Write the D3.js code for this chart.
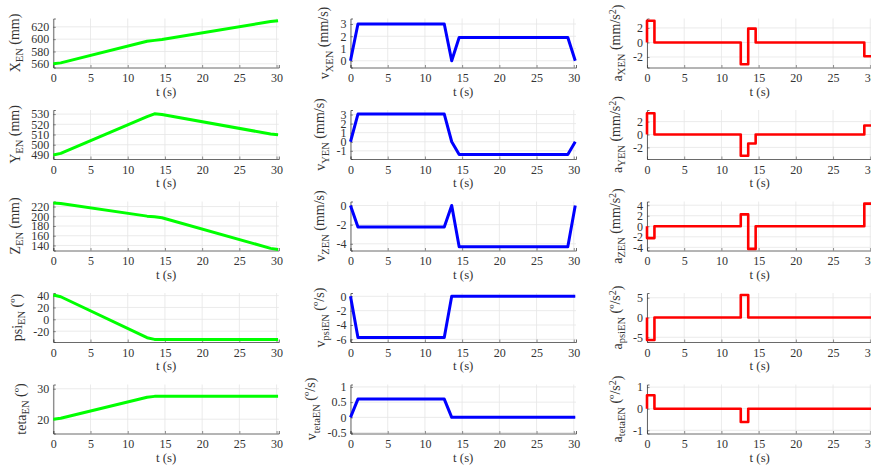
<!DOCTYPE html>
<html><head><meta charset="utf-8">
<script src="https://cdn.jsdelivr.net/npm/d3@7"></script>
<style>
body{margin:0;background:#fff;}
svg, svg text{font-family:"Liberation Serif","Times New Roman",Times,serif !important;}
</style></head>
<body><svg id="c" width="871" height="468"></svg>
<script>
// ---------- data ----------
const tKnots = [0, 1, 12.6, 13.6, 14.6, 29.2, 30.2];
const xTicks = [0, 5, 10, 15, 20, 25, 30];

// positions (values at knots)
const posX   = [560, 561.5, 596.5, 598, 599.5, 628.5, 630];
const posY   = [490, 491.5, 527.5, 530.3, 529.6, 510.5, 509.8];
const posZ   = [227.5, 226.4, 200.3, 199.2, 197, 134, 131.8];
const posPsi = [41, 38.1, -31, -33.9, -33.9, -33.9, -33.9];
const posTeta= [20, 20.3, 27.2, 27.5, 27.5, 27.5, 27.5];

// velocities (values at knots)
const velX   = [0, 3, 3, 0, 1.9, 1.9, 0];
const velY   = [0, 3.05, 3.05, 0, -1.4, -1.4, 0];
const velZ   = [0, -2.25, -2.25, 0, -4.3, -4.3, 0];
const velPsi = [0, -5.75, -5.75, 0, 0, 0, 0];
const velTeta= [0, 0.6, 0.6, 0, 0, 0, 0];

// accelerations (constant value on each interval between knots)
const accX   = [3, 0, -3, 1.9, 0, -1.9];
const accY   = [3.3, 0, -3.3, -1.4, 0, 1.4];
const accZ   = [-2.25, 0, 2.25, -4.3, 0, 4.3];
const accPsi = [-5.7, 0, 5.7, 0, 0, 0];
const accTeta= [0.62, 0, -0.62, 0, 0, 0];

// y tick values
const ticksPos = [[560,580,600,620],[490,500,510,520,530],[140,160,180,200,220],[-20,0,20,40],[20,30]];
const ticksVel = [[0,1,2,3],[-1,0,1,2,3],[-4,-2,0],[-6,-4,-2,0],[-0.5,0,0.5,1]];
const ticksAcc = [[-2,0,2],[-2,0,2],[-4,-2,0,2,4],[-5,0,5],[-1,0,1]];

// y domains
const domPos = [[554,633.5],[486,534],[129.6,230.4],[-38.3,44.4],[15.3,31.4]];
const domVel = [[-0.55,3.45],[-1.9,3.5],[-4.7,0.42],[-6.37,0.46],[-0.53,1.08]];
const domAcc = [[-3.45,3.3],[-3.8,3.8],[-4.6,4.7],[-6.2,6.2],[-1.15,1.12]];

// labels: [main, subscript, unit-before-sup, superscript, after]
const labPos = [["X","EN"," (mm)","",""],["Y","EN"," (mm)","",""],["Z","EN"," (mm)","",""],["psi","EN"," (º)","",""],["teta","EN"," (º)","",""]];
const labVel = [["v","XEN"," (mm/s)","",""],["v","YEN"," (mm/s)","",""],["v","ZEN"," (mm/s)","",""],["v","psiEN"," (º/s)","",""],["v","tetaEN"," (º/s)","",""]];
const labAcc = [["a","XEN"," (mm/s","2",")"],["a","YEN"," (mm/s","2",")"],["a","ZEN"," (mm/s","2",")"],["a","psiEN"," (º/s","2",")"],["a","tetaEN"," (º/s","2",")"]];

const posData = [posX,posY,posZ,posPsi,posTeta];
const velData = [velX,velY,velZ,velPsi,velTeta];
const accData = [accX,accY,accZ,accPsi,accTeta];

// ---------- layout ----------
const colLeft = [53.3, 350.5, 647];
const plotW = 225.5;
const rowTop0 = 18.5, rowStep = 91.5, plotH = 49;
const xDomain = [0, 30.3];
const colors = ["#00ff00", "#0000ff", "#ff0000"];
const widths = [3, 3, 2.6];
const FONT = "Liberation Serif";
const TXT = "#333333";

const svg = d3.select("#c");

function stepPoints(vals){
  const pts = [[tKnots[0], 0]];
  vals.forEach((v,i)=>{ pts.push([tKnots[i], v]); pts.push([tKnots[i+1], v]); });
  return pts;
}

function panel(col, row, pts, ticks, dom, lab){
  const x0 = colLeft[col], y0 = rowTop0 + row*rowStep;
  const g = svg.append("g").attr("transform",`translate(${x0},${y0})`);
  const x = d3.scaleLinear().domain(xDomain).range([0, plotW]);
  const y = d3.scaleLinear().domain(dom).range([plotH, 0]);

  // grid
  g.append("g").selectAll("line").data(xTicks).join("line")
    .attr("x1",d=>x(d)).attr("x2",d=>x(d)).attr("y1",0).attr("y2",plotH)
    .attr("stroke","#e6e6e6").attr("stroke-width",0.8);
  g.append("g").selectAll("line").data(ticks).join("line")
    .attr("x1",0).attr("x2",plotW).attr("y1",d=>y(d)).attr("y2",d=>y(d))
    .attr("stroke","#e6e6e6").attr("stroke-width",0.8);

  // axes
  const xa = g.append("g").attr("transform",`translate(0,${plotH})`)
    .call(d3.axisBottom(x).tickValues(xTicks).tickSize(-2.5).tickPadding(6).tickFormat(d3.format("d")));
  const ya = g.append("g")
    .call(d3.axisLeft(y).tickValues(ticks).tickSize(-2.5).tickPadding(4).tickFormat(d=>String(d)));
  [xa,ya].forEach(a=>{
    a.attr("font-family",FONT);
    a.select(".domain").attr("stroke","#444").attr("stroke-width",0.8);
    a.selectAll(".tick line").attr("stroke","#444").attr("stroke-width",0.6);
    a.selectAll("text").attr("font-family",FONT).attr("font-size",12).attr("fill",TXT);
  });

  // line
  const line = d3.line().x(d=>x(d[0])).y(d=>y(d[1]));
  g.append("path").datum(pts).attr("d",line).attr("fill","none")
    .attr("stroke",colors[col]).attr("stroke-width",widths[col])
    .attr("stroke-linejoin","round").attr("stroke-linecap","butt");

  // x label
  g.append("text").attr("x",plotW/2).attr("y",plotH+28).attr("text-anchor","middle")
    .attr("font-family",FONT).attr("font-size",12.8).attr("fill",TXT).text("t (s)");

  // y label
  let maxW = 0;
  ya.selectAll("text").each(function(){ maxW = Math.max(maxW, this.getComputedTextLength()); });
  const lx = -6.5 - maxW - 9;
  const t = g.append("text").attr("transform",`translate(${lx},${plotH/2}) rotate(-90)`)
    .attr("text-anchor","middle").attr("font-family",FONT).attr("font-size",14).attr("fill",TXT);
  t.append("tspan").text(lab[0]);
  t.append("tspan").attr("font-size",10.5).attr("dy","0.35em").text(lab[1]);
  t.append("tspan").attr("dy","-0.35em").text(lab[2]);
  if(lab[3]){
    t.append("tspan").attr("font-size",10).attr("dy","-0.45em").text(lab[3]);
    t.append("tspan").attr("dy","0.45em").text(lab[4]);
  }
}

for(let r=0;r<5;r++){
  panel(0, r, tKnots.map((tt,i)=>[tt,posData[r][i]]), ticksPos[r], domPos[r], labPos[r]);
  panel(1, r, tKnots.map((tt,i)=>[tt,velData[r][i]]), ticksVel[r], domVel[r], labVel[r]);
  panel(2, r, stepPoints(accData[r]), ticksAcc[r], domAcc[r], labAcc[r]);
}
</script></body></html>
